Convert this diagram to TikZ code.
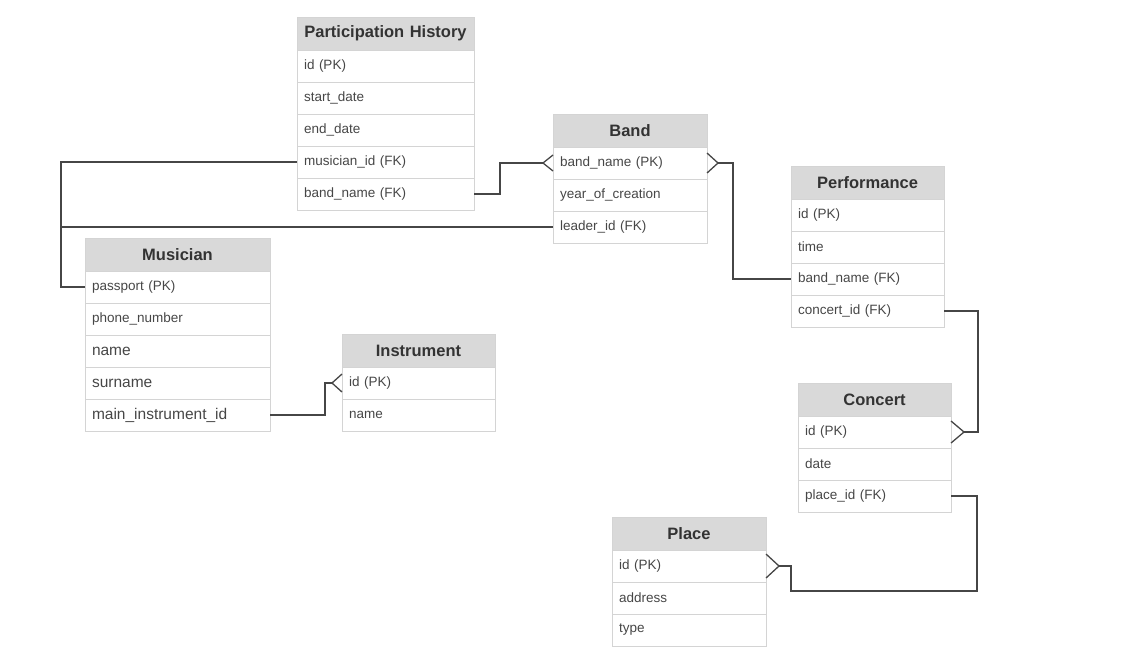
\documentclass[tikz,border=0pt]{standalone}
\usepackage{fontspec}
\setmainfont{Liberation Sans}
\usetikzlibrary{positioning}

\definecolor{headfill}{RGB}{217,217,217}
\definecolor{tblline}{RGB}{212,212,212}
\definecolor{headtext}{RGB}{51,51,51}
\definecolor{rowtext}{RGB}{70,70,70}
\definecolor{linkcol}{RGB}{70,70,70}

\tikzset{
  field/.style={draw=tblline, line width=0.9pt, inner xsep=7pt, inner ysep=0pt, outer sep=0pt,
    text=rowtext, font=\fontsize{13.5}{15}\selectfont, align=left, minimum height=32pt},
  bigfield/.style={field, font=\fontsize{15.5}{17}\selectfont},
  tablehead/.style={field, fill=headfill, text=headtext, align=center, anchor=north west,
    font=\bfseries\fontsize{16.5}{18}\selectfont, minimum height=33pt},
  link/.style={draw=linkcol, line width=1.3pt}
}

\begin{document}
\begin{tikzpicture}[x=1pt, y=-1pt]
  \useasboundingbox (0,0) rectangle (1134,657);

  % Participation History
  \node[tablehead, text width=163pt] (ph) at (297,17) {Participation History};
  \node[field, text width=163pt, below=0pt of ph] (ph1) {id (PK)};
  \node[field, text width=163pt, below=0pt of ph1] (ph2) {start\_date};
  \node[field, text width=163pt, below=0pt of ph2] (ph3) {end\_date};
  \node[field, text width=163pt, below=0pt of ph3] (ph4) {musician\_id (FK)};
  \node[field, text width=163pt, below=0pt of ph4] (ph5) {band\_name (FK)};

  % Band
  \node[tablehead, text width=140pt] (band) at (553,114) {Band};
  \node[field, text width=140pt, below=0pt of band] (band1) {band\_name (PK)};
  \node[field, text width=140pt, below=0pt of band1] (band2) {year\_of\_creation};
  \node[field, text width=140pt, below=0pt of band2] (band3) {leader\_id (FK)};

  % Performance
  \node[tablehead, text width=139pt] (perf) at (791,166) {Performance};
  \node[field, text width=139pt, below=0pt of perf] (perf1) {id (PK)};
  \node[field, text width=139pt, below=0pt of perf1] (perf2) {time};
  \node[field, text width=139pt, below=0pt of perf2] (perf3) {band\_name (FK)};
  \node[field, text width=139pt, below=0pt of perf3] (perf4) {concert\_id (FK)};

  % Musician
  \node[tablehead, text width=171pt] (mus) at (85,238) {Musician};
  \node[field, text width=171pt, below=0pt of mus] (mus1) {passport (PK)};
  \node[field, text width=171pt, below=0pt of mus1] (mus2) {phone\_number};
  \node[bigfield, text width=171pt, below=0pt of mus2] (mus3) {name};
  \node[bigfield, text width=171pt, below=0pt of mus3] (mus4) {surname};
  \node[bigfield, text width=171pt, below=0pt of mus4] (mus5) {main\_instrument\_id};

  % Instrument
  \node[tablehead, text width=139pt] (inst) at (342,334) {Instrument};
  \node[field, text width=139pt, below=0pt of inst] (inst1) {id (PK)};
  \node[field, text width=139pt, below=0pt of inst1] (inst2) {name};

  % Concert
  \node[tablehead, text width=139pt] (conc) at (798,383) {Concert};
  \node[field, text width=139pt, below=0pt of conc] (conc1) {id (PK)};
  \node[field, text width=139pt, below=0pt of conc1] (conc2) {date};
  \node[field, text width=139pt, below=0pt of conc2] (conc3) {place\_id (FK)};

  % Place
  \node[tablehead, text width=140pt] (place) at (612,517) {Place};
  \node[field, text width=140pt, below=0pt of place] (place1) {id (PK)};
  \node[field, text width=140pt, below=0pt of place1] (place2) {address};
  \node[field, text width=140pt, below=0pt of place2] (place3) {type};

  % Relations
  \coordinate (bus) at (61,0);
  \draw[link] (mus1.west) -| (bus |- ph4.west) -- (ph4.west);
  \draw[link] (bus |- band3.west) -- (band3.west);

  \draw[link] (ph5.east) -- ++(26,0) |- ([xshift=-10pt]band1.west);
  \draw[link] ([xshift=-10pt]band1.west) -- ([yshift=8pt]band1.west);
  \draw[link] ([xshift=-10pt]band1.west) -- ([yshift=-8pt]band1.west);

  \draw[link] ([xshift=11pt]band1.east) -- ++(15,0) |- (perf3.west);
  \draw[link] ([xshift=11pt]band1.east) -- ([yshift=10pt]band1.east);
  \draw[link] ([xshift=11pt]band1.east) -- ([yshift=-10pt]band1.east);

  \draw[link] (perf4.east) -- ++(34,0) |- ([xshift=13pt]conc1.east);
  \draw[link] ([xshift=13pt]conc1.east) -- ([yshift=11pt]conc1.east);
  \draw[link] ([xshift=13pt]conc1.east) -- ([yshift=-11pt]conc1.east);

  \draw[link] (conc3.east) -- ++(26,0) |- ([xshift=25pt, yshift=-25pt]place1.east) |- ([xshift=13pt]place1.east);
  \draw[link] ([xshift=13pt]place1.east) -- ([yshift=12pt]place1.east);
  \draw[link] ([xshift=13pt]place1.east) -- ([yshift=-12pt]place1.east);

  \draw[link] (mus5.east) -- ++(55,0) |- ([xshift=-10pt]inst1.west);
  \draw[link] ([xshift=-10pt]inst1.west) -- ([yshift=9pt]inst1.west);
  \draw[link] ([xshift=-10pt]inst1.west) -- ([yshift=-9pt]inst1.west);
\end{tikzpicture}
\end{document}
